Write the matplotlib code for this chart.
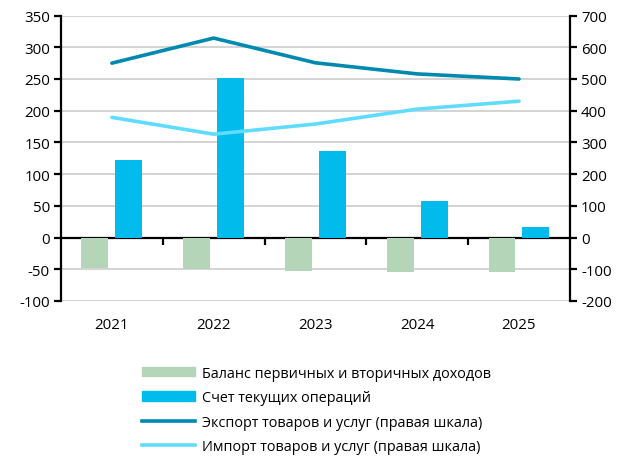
import numpy as np
import matplotlib.pyplot as plt
from matplotlib.patches import Patch
from matplotlib.lines import Line2D

# Данные
years = ['2021', '2022', '2023', '2024', '2025']
balance = [-48, -50, -52, -54, -54]          # Баланс первичных и вторичных доходов
current_account = [122, 252, 136, 57, 16]    # Счет текущих операций
exports = [550, 629, 551, 516, 500]          # Экспорт (правая шкала)
imports = [379, 326, 358, 405, 430]          # Импорт (правая шкала)

labels = ['Баланс первичных и вторичных доходов',
          'Счет текущих операций',
          'Экспорт товаров и услуг (правая шкала)',
          'Импорт товаров и услуг (правая шкала)']

c_green = '#b5d5b8'
c_blue = '#00bbec'
c_exp = '#0089b0'
c_imp = '#5fdcff'

plt.rcParams['font.family'] = ['Open Sans', 'DejaVu Sans']
plt.rcParams['font.size'] = 10.8
plt.rcParams['axes.unicode_minus'] = False

fig = plt.figure(figsize=(6.29, 4.6), dpi=100)
ax = fig.add_axes([0.097, 0.3435, 0.809, 0.6205])
ax2 = ax.twinx()

x = np.arange(len(years))
w = 0.265
ax.bar(x - 0.167, balance, w, color=c_green, zorder=3)
ax.bar(x + 0.167, current_account, w, color=c_blue, zorder=3)

ax.set_xlim(-0.5, len(years) - 0.5)
ax.set_ylim(-100, 350)
ax.set_yticks(np.arange(-100, 351, 50))
ax.grid(axis='y', color='#cccccc', linewidth=1.2, zorder=0)
ax.set_axisbelow(True)

ax2.plot(x, exports, color=c_exp, linewidth=2.6, solid_capstyle='round')
ax2.plot(x, imports, color=c_imp, linewidth=2.6, solid_capstyle='round')
ax2.set_ylim(-200, 700)
ax2.set_yticks(np.arange(-200, 701, 100))

# Оси
for a in (ax, ax2):
    a.spines['top'].set_visible(False)
ax.spines['right'].set_visible(False)
ax2.spines['left'].set_visible(False)
ax2.spines['bottom'].set_visible(False)
ax.spines['left'].set_linewidth(1.6)
ax2.spines['right'].set_linewidth(1.6)
ax.spines['bottom'].set_position(('data', 0))
ax.spines['bottom'].set_linewidth(1.6)

ax.set_xticks(x)
ax.set_xticklabels(years)
ax.tick_params(axis='x', which='major', length=0, pad=57)
ax.set_xticks(np.arange(0.5, len(years) - 1, 1), minor=True)
ax.tick_params(axis='x', which='minor', length=5, width=1.6, direction='out')
ax.tick_params(axis='y', length=5, width=1.6, pad=3)
ax2.tick_params(axis='y', length=5, width=1.6, pad=3)

# Легенда
handles = [Patch(color=c_green), Patch(color=c_blue),
           Line2D([], [], color=c_exp, linewidth=2.6),
           Line2D([], [], color=c_imp, linewidth=2.6)]
fig.legend(handles, labels, loc='upper left', bbox_to_anchor=(0.226, 0.203),
           frameon=False, fontsize=10.4, handlelength=3.65, handleheight=0.6,
           handletextpad=0.47, labelspacing=0.66, borderaxespad=0, borderpad=0)

fig.savefig('out.png', dpi=100)
